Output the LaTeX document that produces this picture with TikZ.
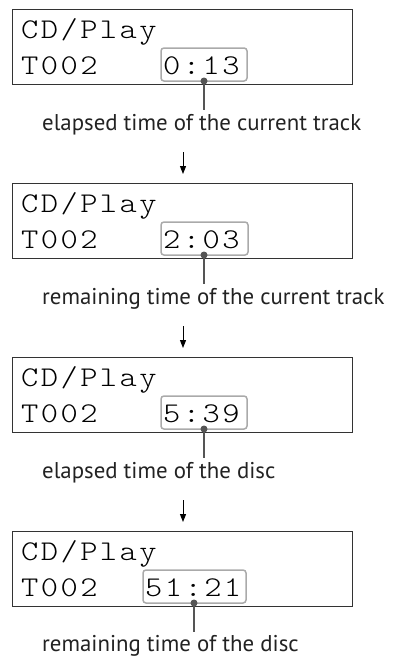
\documentclass[tikz,border=0pt]{standalone}
\usepackage{fontspec}
\usetikzlibrary{arrows.meta}
\newfontfamily\lcdfont[FakeStretch=1.15,LetterSpace=8.5]{Latin Modern Mono Light}
\newfontfamily\lblfont{PT Sans}
\definecolor{frameC}{HTML}{333333}
\definecolor{hiC}{HTML}{AAAAAA}
\definecolor{leadC}{HTML}{555555}
\definecolor{lblC}{HTML}{222222}
\newlength\lblw
\settowidth\lblw{\lblfont\fontsize{10pt}{12pt}\selectfont elapsed time of the current track}
\begin{document}
\pgfmathsetmacro\lblsize{10*319/\lblw}
\begin{tikzpicture}[x=1pt,y=-1pt,
  panel/.style={draw=frameC,line width=1pt},
  hibox/.style={draw=hiC,line width=1.5pt,rounded corners=3pt},
  lcdtext/.style={anchor=base west,inner sep=0pt,font=\lcdfont\fontsize{28.6pt}{30pt}\selectfont},
  lbltext/.style={anchor=base west,inner sep=0pt,text=lblC,font=\lblfont\fontsize{\lblsize pt}{\lblsize pt}\selectfont},
  leader/.style={draw=leadC,line width=2pt},
  dotmark/.style={fill=leadC},
  flow/.style={draw=black,line width=1pt,-{Triangle[width=6pt,length=8pt]}}]
\useasboundingbox (0,0) rectangle (393,656);
% panel 1
\draw[panel] (12,9) rectangle (352,84);
\node[lcdtext] (p1a) at (21,38) {CD/Play};
\node[lcdtext] (p1b) at (21,74) {T002};
\node[lcdtext] (p1t) at (163,74) {0:13};
\draw[hibox] (161,48) rectangle (247,81);
\coordinate (d1) at (204,81);
\node[lbltext] (l1) at (42,130) {elapsed time of the current track};
\coordinate (e1) at (204,110);
\draw[leader] (d1) -- (e1);
\fill[dotmark] (d1) circle (3.5pt);
\coordinate (a1s) at (183,152);
\coordinate (a1e) at (183,174);
\draw[flow] (a1s) -- (a1e);
% panel 2
\draw[panel] (12,183) rectangle (352,258);
\node[lcdtext] (p2a) at (21,212) {CD/Play};
\node[lcdtext] (p2b) at (21,248) {T002};
\node[lcdtext] (p2t) at (163,248) {2:03};
\draw[hibox] (161,222) rectangle (248,255);
\coordinate (d2) at (204,255);
\node[lbltext] (l2) at (42,304) {remaining time of the current track};
\coordinate (e2) at (204,284);
\draw[leader] (d2) -- (e2);
\fill[dotmark] (d2) circle (3.5pt);
\coordinate (a2s) at (183,326);
\coordinate (a2e) at (183,348);
\draw[flow] (a2s) -- (a2e);
% panel 3
\draw[panel] (12,357) rectangle (352,432);
\node[lcdtext] (p3a) at (21,386) {CD/Play};
\node[lcdtext] (p3b) at (21,422) {T002};
\node[lcdtext] (p3t) at (163,422) {5:39};
\draw[hibox] (161,396) rectangle (247,429);
\coordinate (d3) at (204,429);
\node[lbltext] (l3) at (42,478) {elapsed time of the disc};
\coordinate (e3) at (204,458);
\draw[leader] (d3) -- (e3);
\fill[dotmark] (d3) circle (3.5pt);
\coordinate (a3s) at (183,500);
\coordinate (a3e) at (183,522);
\draw[flow] (a3s) -- (a3e);
% panel 4
\draw[panel] (12,531) rectangle (352,606);
\node[lcdtext] (p4a) at (21,560) {CD/Play};
\node[lcdtext] (p4b) at (21,596) {T002};
\node[lcdtext] (p4t) at (145,596) {51:21};
\draw[hibox] (143,570) rectangle (246,603);
\coordinate (d4) at (194,603);
\node[lbltext] (l4) at (42,651) {remaining time of the disc};
\coordinate (e4) at (194,632);
\draw[leader] (d4) -- (e4);
\fill[dotmark] (d4) circle (3.5pt);
\end{tikzpicture}
\end{document}
